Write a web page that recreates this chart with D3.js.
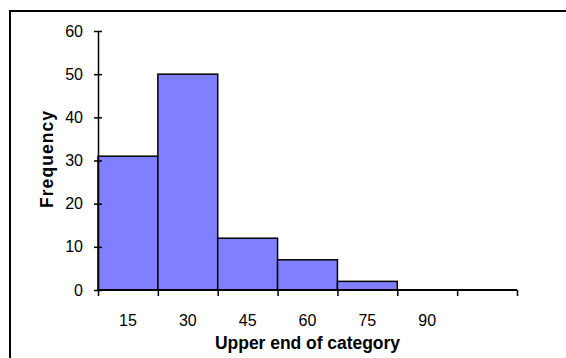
<!DOCTYPE html>
<html>
<head>
<meta charset="utf-8">
<script src="https://cdn.jsdelivr.net/npm/d3@7"></script>
<style>
  html, body { margin: 0; padding: 0; background: #fff; }
  svg { display: block; }
  text { font-family: "Liberation Sans", Arial, sans-serif; fill: #000; }
</style>
</head>
<body>
<svg id="chart" width="566" height="358"></svg>
<script>
// Data
const categories = ["15", "30", "45", "60", "75", "90", ""];
const frequencies = [31, 50, 12, 7, 2, 0, 0];
const yTicks = [0, 10, 20, 30, 40, 50, 60];

(function () {
const svg = d3.select("#chart");
const mLeft = 98, mRight = 517, mTop = 31, mBottom = 290;

// Outer frame
svg.append("rect")
  .attr("x", 10).attr("y", 11)
  .attr("width", 600).attr("height", 400)
  .attr("fill", "none").attr("stroke", "#000").attr("stroke-width", 2);

const x = d3.scaleLinear().domain([0, categories.length]).range([mLeft, mRight]);
const y = d3.scaleLinear().domain([0, 60]).range([mBottom, mTop]);

// Bars
svg.append("g").selectAll("rect")
  .data(frequencies.map((v, i) => ({ v, i })).filter(d => d.v > 0))
  .join("rect")
  .attr("x", d => x(d.i))
  .attr("y", d => y(d.v))
  .attr("width", d => x(d.i + 1) - x(d.i))
  .attr("height", d => y(0) - y(d.v))
  .attr("fill", "#8080FF")
  .attr("stroke", "#000")
  .attr("stroke-width", 1.5);

// Y axis
const yAxis = d3.axisLeft(y).tickValues(yTicks).tickSize(0).tickPadding(15).tickFormat(d3.format("d"));
const gy = svg.append("g").attr("transform", `translate(${mLeft},0)`).call(yAxis);
gy.select(".domain").attr("stroke", "#000").attr("stroke-width", 1.5);
gy.selectAll(".tick line").attr("x1", -4).attr("x2", 4).attr("stroke", "#000").attr("stroke-width", 1.5);
gy.selectAll(".tick text").attr("font-size", 16).attr("font-family", "Liberation Sans, Arial, sans-serif").attr("fill", "#000");

// X axis: tick marks at bin edges
const xAxisTicks = d3.axisBottom(x).tickValues(d3.range(0, categories.length + 1)).tickSize(6).tickFormat("");
const gx = svg.append("g").attr("transform", `translate(0,${mBottom})`).call(xAxisTicks);
gx.select(".domain").attr("stroke", "#000").attr("stroke-width", 2).attr("d", `M${mLeft},0H${mRight}`);
gx.selectAll(".tick line").attr("stroke", "#000").attr("stroke-width", 1.5);

// X labels at bin centers
svg.append("g").selectAll("text")
  .data(categories)
  .join("text")
  .attr("x", (d, i) => x(i + 0.5))
  .attr("y", 326)
  .attr("text-anchor", "middle")
  .attr("font-size", 16)
  .text(d => d);

// Axis titles
svg.append("text")
  .attr("x", (mLeft + mRight) / 2)
  .attr("y", 349)
  .attr("text-anchor", "middle")
  .attr("font-size", 17.5)
  .attr("font-weight", "bold")
  .attr("textLength", 185)
  .attr("lengthAdjust", "spacing")
  .text("Upper end of category");

svg.append("text")
  .attr("transform", `translate(53,${(mTop + mBottom) / 2 - 1}) rotate(-90)`)
  .attr("text-anchor", "middle")
  .attr("font-size", 17.5)
  .attr("font-weight", "bold")
  .attr("textLength", 97)
  .attr("lengthAdjust", "spacing")
  .text("Frequency");
})();
</script>
</body>
</html>
